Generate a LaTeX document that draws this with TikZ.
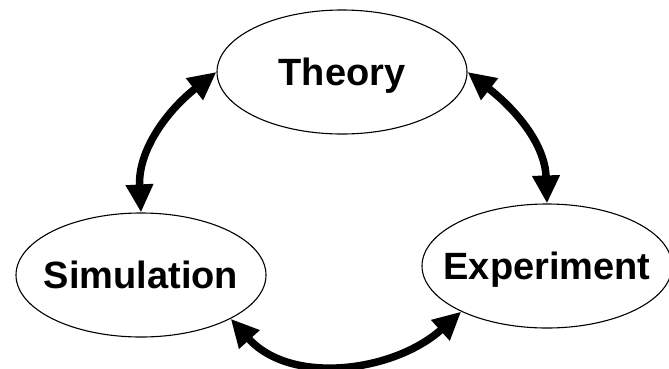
\documentclass[tikz,border=0pt]{standalone}
\usepackage{fontspec}
\setmainfont{Liberation Sans}
\usetikzlibrary{shapes,arrows.meta}

\begin{document}
\begin{tikzpicture}[x=1pt, y=-1pt,
  field/.style={ellipse, draw, line width=1.1pt, minimum width=250pt, minimum height=124pt,
    inner xsep=-20pt, inner ysep=0pt, text depth=0pt, font=\fontsize{38}{40}\selectfont\bfseries},
  link/.style={line width=7.5pt, {Triangle[length=28pt,width=26pt]}-{Triangle[length=28pt,width=26pt]}}]
\useasboundingbox (0,0) rectangle (669,368);
\node[field] (theory) at (342,72) {Theory};
\node[field] (simulation) at (141,275) {Simulation};
\node[field] (experiment) at (547,266) {Experiment};
\draw[link] (simulation.north) to[out=93, in=218] (theory.west);
\draw[link] (theory.east) to[out=-38, in=92] (experiment.north);
\draw[link] (simulation.-26) to[out=-48, in=-138] (experiment.-152);
\end{tikzpicture}
\end{document}
